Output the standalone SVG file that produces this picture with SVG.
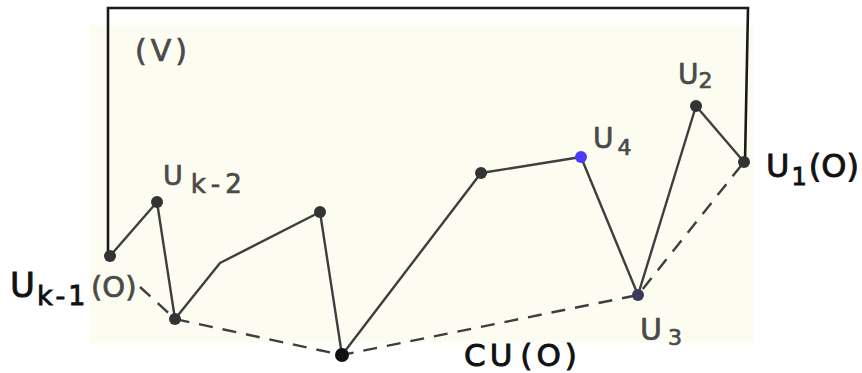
<svg xmlns="http://www.w3.org/2000/svg" width="862" height="373" viewBox="0 0 862 373">
<style>
.bg{fill:#fdfcf0}
.ln{fill:none;stroke:#3e3e3e;stroke-width:2.4;stroke-linejoin:round}
.fr{fill:none;stroke:#1a1a1a;stroke-width:2.6}
.ds{fill:none;stroke:#3e3e3e;stroke-width:2.4;stroke-dasharray:14 10}
.pt{fill:#333}
.g{font-family:"DejaVu Sans","Liberation Sans",sans-serif;fill:#4a4a4a;stroke:#4a4a4a;stroke-width:0.7}
.k{font-family:"DejaVu Sans","Liberation Sans",sans-serif;fill:#111;stroke:#111;stroke-width:0.9}
</style>
<rect x="0" y="0" width="862" height="373" fill="#ffffff"/>
<rect class="bg" x="90" y="25" width="663" height="318"/>
<g id="connectors">
<path class="fr" d="M108,256 L108,8 L748,8 L745,162"/>
<polyline class="ln" points="110,256 157,202 175,319 220,263 320,212 342,355 481,173 581,157 638,295 696,106 744,162"/>
<polyline class="ds" points="140,287 175,319 342,355 638,295 744,162"/>
</g>
<g id="node-uk1"><circle class="pt" cx="110" cy="256" r="6"/>
<text class="k" x="10" y="297" font-size="34">U<tspan font-size="27" dx="2" dy="8" letter-spacing="3">k-1</tspan></text>
<text class="g" x="91" y="297" font-size="29">(O)</text></g>
<g id="node-uk2"><circle class="pt" cx="157" cy="202" r="6"/>
<text class="g" x="163" y="185" font-size="27">U<tspan font-size="26" dx="8" dy="8" letter-spacing="5">k-2</tspan></text></g>
<g id="node-a"><circle class="pt" cx="175" cy="319" r="6"/></g>
<g id="node-b"><circle class="pt" cx="320" cy="212" r="6"/></g>
<g id="node-cu"><circle cx="342" cy="355" r="7" fill="#111"/>
<text class="k" x="464" y="366" font-size="31" letter-spacing="4">CU<tspan dx="4">(O)</tspan></text></g>
<g id="node-c"><circle class="pt" cx="481" cy="173" r="6"/></g>
<g id="node-u4"><circle cx="581" cy="157" r="6" fill="#4a3aff"/>
<text class="g" x="593" y="148" font-size="28">U<tspan font-size="22" dx="4" dy="7">4</tspan></text></g>
<g id="node-u3"><circle cx="638" cy="295" r="6" fill="#3a3a5a"/>
<text class="g" x="640" y="340" font-size="30">U<tspan font-size="22" dx="6" dy="5">3</tspan></text></g>
<g id="node-u2"><circle class="pt" cx="696" cy="106" r="6"/>
<text class="g" x="678" y="84" font-size="28">U<tspan font-size="22" dy="4">2</tspan></text></g>
<g id="node-u1"><circle class="pt" cx="744" cy="162" r="6"/>
<text class="k" x="766" y="177" font-size="32">U<tspan font-size="24" dx="2" dy="8">1</tspan><tspan dx="2" dy="-8">(O)</tspan></text></g>
<g id="label-v"><text class="g" x="135" y="61" font-size="30" letter-spacing="4">(V)</text></g>
</svg>
